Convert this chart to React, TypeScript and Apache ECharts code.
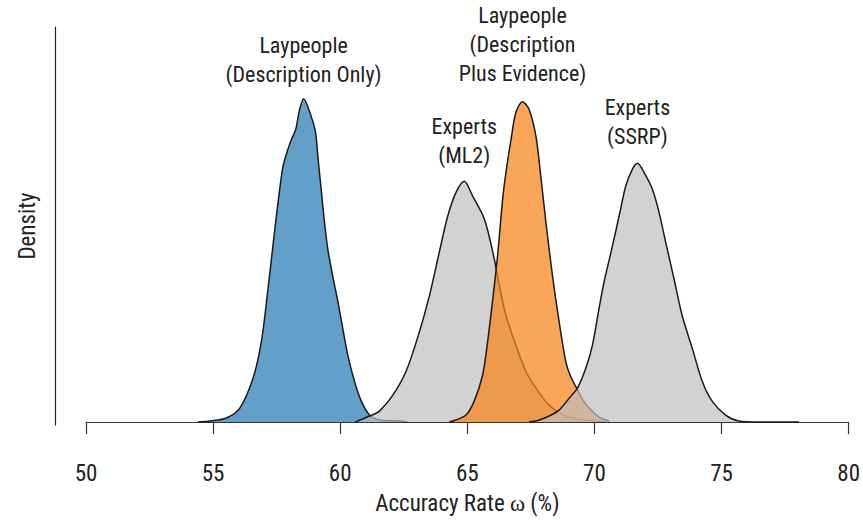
import React, { useEffect, useRef } from "react";
import * as echarts from "echarts";

// x-axis ticks
const xTicks = [50, 55, 60, 65, 70, 75, 80];

// Laypeople (Description Only)
const layDescX = [54.4, 54.9, 55.52, 56.05, 56.57, 56.9, 57.16, 57.46, 57.62, 57.75, 57.94, 58.08, 58.25, 58.4, 58.56, 58.86, 59.03, 59.12, 59.25, 59.38, 59.51, 59.65, 59.78, 59.91, 60.1, 60.3, 60.56, 60.83, 61.15, 61.54, 62.33, 62.64];
const layDescY = [0, 1, 4, 14, 44, 81, 134, 201, 234, 257, 274, 284, 294, 314, 325, 307, 291, 267, 234, 201, 174, 154, 137, 121, 94, 67, 41, 21, 7, 2, 1, 0];

// Experts (ML2)
const expML2X = [60.6, 61.15, 61.54, 62.07, 62.59, 63.12, 63.51, 63.9, 64.23, 64.56, 64.88, 65.21, 65.67, 66.06, 66.26, 66.52, 66.91, 67.3, 67.7, 68.22, 68.88, 69.66, 70.45];
const expML2Y = [0, 6, 11, 27, 51, 91, 127, 171, 207, 231, 242, 227, 204, 164, 137, 107, 77, 51, 34, 17, 6, 2, 0];

// Laypeople (Description Plus Evidence)
const layEvidX = [64.29, 64.55, 64.95, 65.27, 65.6, 65.8, 65.99, 66.19, 66.39, 66.52, 66.72, 66.91, 67.17, 67.43, 67.7, 67.89, 68.09, 68.35, 68.61, 68.88, 69.08, 69.32, 69.55, 69.79, 70.18, 70.58];
const layEvidY = [0, 2, 7, 21, 47, 81, 121, 167, 224, 251, 284, 311, 322, 314, 287, 247, 201, 147, 101, 60, 45, 33, 22, 14, 5, 1];

// Experts (SSRP)
const expSSRPX = [67.43, 67.83, 68.22, 68.61, 69.01, 69.33, 69.66, 69.92, 70.18, 70.38, 70.71, 71.03, 71.23, 71.49, 71.69, 71.95, 72.28, 72.54, 72.8, 73.13, 73.45, 73.85, 74.24, 74.63, 75.16, 75.68, 76.47, 78.04];
const expSSRPY = [0, 2, 6, 12, 24, 34, 54, 77, 114, 141, 177, 214, 237, 254, 260, 251, 234, 211, 181, 144, 107, 74, 41, 21, 7, 1, 0, 0];

const seriesNames = [
  "Laypeople\n(Description Only)",
  "Experts\n(ML2)",
  "Laypeople\n(Description\nPlus Evidence)",
  "Experts\n(SSRP)",
];

const FONT = "'Liberation Sans Narrow', 'Roboto Condensed', 'DejaVu Sans Condensed', 'Liberation Sans', sans-serif";

function zip(xs: number[], ys: number[]) {
  return xs.map((x, i) => [x, ys[i]]);
}

function peak(xs: number[], ys: number[]) {
  let k = 0;
  ys.forEach((v, i) => { if (v > ys[k]) k = i; });
  return [xs[k], ys[k]];
}

export default function App() {
  const ref = useRef<HTMLDivElement>(null);
  useEffect(() => {
    if (!ref.current) return;
    const chart = echarts.init(ref.current, undefined, { renderer: "svg" });
    const sets = [
      { x: layDescX, y: layDescY, fill: "rgba(31,119,180,0.7)", dist: 10 },
      { x: expML2X, y: expML2Y, fill: "rgba(191,191,191,0.7)", dist: 11 },
      { x: layEvidX, y: layEvidY, fill: "rgba(248,132,24,0.72)", dist: 14 },
      { x: expSSRPX, y: expSSRPY, fill: "rgba(191,191,191,0.7)", dist: 12 },
    ];
    chart.setOption({
      animation: false,
      grid: { left: 86, right: 13, top: 27, bottom: 93 },
      xAxis: {
        type: "value",
        min: xTicks[0],
        max: xTicks[xTicks.length - 1],
        interval: 5,
        offset: 13,
        axisLine: { show: true, lineStyle: { color: "#333", width: 1.2 } },
        axisTick: { show: true, length: 12, inside: false, lineStyle: { color: "#333", width: 1.2 } },
        splitLine: { show: false },
        axisLabel: { fontFamily: FONT, fontSize: 23, color: "#222", margin: 24 },
        name: "{a|Accuracy Rate }{w|ω}{a| (%)}",
        nameLocation: "middle",
        nameGap: 54,
        nameTextStyle: {
          rich: {
            a: { fontFamily: FONT, fontSize: 23, color: "#222" },
            w: { fontFamily: "'Liberation Serif', 'DejaVu Serif', serif", fontSize: 23, color: "#222" },
          },
        },
      },
      yAxis: {
        type: "value",
        min: -3,
        max: 397,
        offset: 31,
        axisLine: { show: true, lineStyle: { color: "#222", width: 1.2 } },
        axisTick: { show: false },
        axisLabel: { show: false },
        splitLine: { show: false },
        name: "Density",
        nameLocation: "middle",
        nameGap: 16,
        nameTextStyle: { fontFamily: FONT, fontSize: 23, color: "#222" },
      },
      series: sets.map((s, i) => ({
        type: "line",
        name: seriesNames[i],
        data: zip(s.x, s.y),
        smooth: 0.3,
        symbol: "none",
        z: 2 + i,
        lineStyle: { color: "#1a1a1a", width: 1.5 },
        areaStyle: { color: s.fill, opacity: 1 },
        markPoint: {
          symbol: "circle",
          symbolSize: 0,
          silent: true,
          data: [
            {
              coord: peak(s.x, s.y),
              label: {
                show: true,
                position: "top",
                distance: s.dist,
                formatter: seriesNames[i],
                fontFamily: FONT,
                fontSize: 22,
                lineHeight: 29,
                color: "#222",
                align: "center",
              },
            },
          ],
        },
      })),
    });
    return () => chart.dispose();
  }, []);
  return (
    <div
      ref={ref}
      style={{ position: "fixed", left: 0, top: 0, width: 863, height: 520, background: "#fff" }}
    />
  );
}
